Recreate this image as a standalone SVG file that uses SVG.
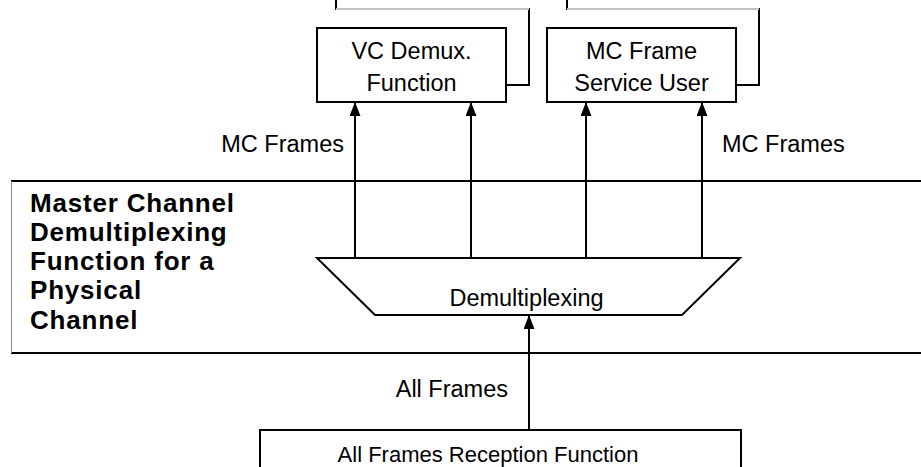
<svg xmlns="http://www.w3.org/2000/svg" width="921" height="467" viewBox="0 0 921 467">
<style>
.ln{stroke:#000;stroke-width:2;fill:none}
.box{stroke:#000;stroke-width:2;fill:#fff}
.t{font-family:"Liberation Sans",Arial,Helvetica,sans-serif;font-size:23.5px;fill:#000}
.s{font-family:"Liberation Sans",Arial,Helvetica,sans-serif;font-size:22px;fill:#000}
.b{font-family:"Liberation Sans",Arial,Helvetica,sans-serif;font-size:26px;font-weight:bold;letter-spacing:0.8px;fill:#000}
</style>
<defs>
<marker id="ah" markerWidth="14" markerHeight="11" refX="14" refY="5.5" orient="auto" markerUnits="userSpaceOnUse" viewBox="0 0 14 11">
<path d="M0,0 L14,5.5 L0,11 Z" fill="#000"/>
</marker>
</defs>
<rect width="921" height="467" fill="#fff"/>
<g id="band">
<line x1="11" y1="181" x2="921" y2="181" class="ln"/>
<line x1="11" y1="353" x2="921" y2="353" class="ln"/>
<line x1="11.5" y1="181" x2="11.5" y2="353" stroke="#888" stroke-width="1"/>
<text class="b" x="30" y="211.5">Master Channel</text>
<text class="b" x="30" y="240.8">Demultiplexing</text>
<text class="b" x="30" y="270.1">Function for a</text>
<text class="b" x="30" y="299.4">Physical</text>
<text class="b" x="30" y="328.7">Channel</text>
</g>
<g id="vc-demux">
<polyline points="336,0 336,9 529,9 529,85 506,85" class="ln"/>
<line x1="336" y1="9" x2="529" y2="9" stroke="#fff" stroke-width="2"/>
<line x1="336" y1="9" x2="529" y2="9" stroke="#888" stroke-width="1"/>
<rect x="317" y="28" width="189" height="74" class="box"/>
<text class="t" x="411.5" y="59" text-anchor="middle">VC Demux.</text>
<text class="t" x="411.5" y="91" text-anchor="middle">Function</text>
</g>
<g id="mc-user">
<polyline points="567,0 567,9 759,9 759,85 736,85" class="ln"/>
<line x1="567" y1="9" x2="759" y2="9" stroke="#fff" stroke-width="2"/>
<line x1="567" y1="9" x2="759" y2="9" stroke="#888" stroke-width="1"/>
<rect x="547" y="28" width="189" height="74" class="box"/>
<text class="t" x="641.5" y="59" text-anchor="middle">MC Frame</text>
<text class="t" x="641.5" y="91" text-anchor="middle">Service User</text>
</g>
<g id="demux">
<polygon points="317,258 740,258 682,315 375,315" class="box"/>
<text class="t" x="526.5" y="306" text-anchor="middle">Demultiplexing</text>
</g>
<g id="reception">
<rect x="260" y="430" width="481" height="60" class="box"/>
<text class="s" x="488" y="462" text-anchor="middle">All Frames Reception Function</text>
</g>
<g id="connectors">
<line x1="355" y1="258" x2="355" y2="102" class="ln" marker-end="url(#ah)"/>
<line x1="471" y1="258" x2="471" y2="102" class="ln" marker-end="url(#ah)"/>
<line x1="586" y1="258" x2="586" y2="102" class="ln" marker-end="url(#ah)"/>
<line x1="702" y1="258" x2="702" y2="102" class="ln" marker-end="url(#ah)"/>
<line x1="529" y1="430" x2="529" y2="315" class="ln" marker-end="url(#ah)"/>
<text class="t" x="344" y="152" text-anchor="end">MC Frames</text>
<text class="t" x="722" y="152">MC Frames</text>
<text class="t" x="508" y="397" text-anchor="end">All Frames</text>
</g>
</svg>
